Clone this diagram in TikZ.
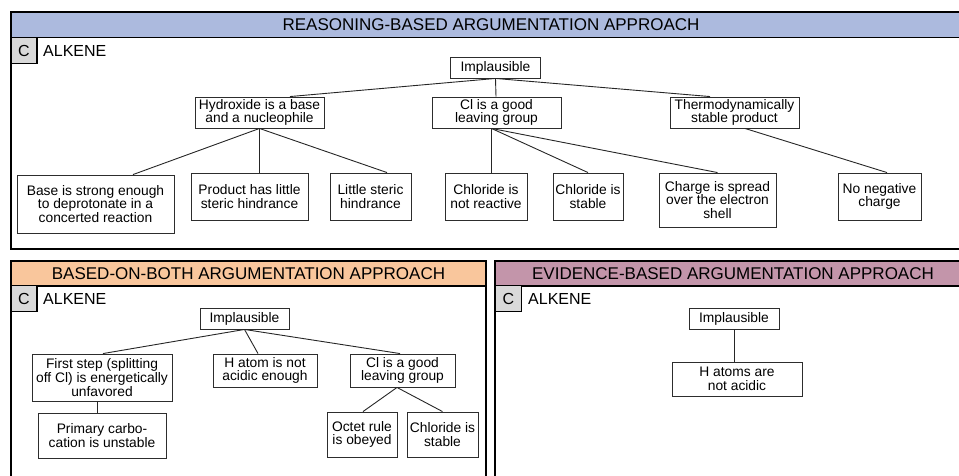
\documentclass[tikz,border=0pt]{standalone}
\usepackage{fontspec}
\setmainfont{Liberation Sans}
\definecolor{hblue}{RGB}{172,186,222}
\definecolor{horange}{RGB}{249,198,156}
\definecolor{hmauve}{RGB}{195,149,170}
\definecolor{cgray}{RGB}{217,217,217}
\definecolor{boxline}{RGB}{45,45,45}
\tikzset{
  argbox/.style={draw=boxline, line width=0.9pt, fill=white, inner sep=0pt, align=center,
    font=\fontsize{13.8}{13.6}\selectfont},
  panel/.style={draw=black, line width=1.5pt},
  header/.style={draw=black, line width=1.5pt},
  headtext/.style={font=\fontsize{17}{18}\selectfont, inner sep=0pt},
  cbox/.style={draw=black, line width=1.2pt, fill=cgray, inner sep=0pt,
    minimum width=26pt, minimum height=26pt, font=\fontsize{16}{18}\selectfont},
  alk/.style={anchor=west, inner sep=0pt, font=\fontsize{16}{18}\selectfont},
  link/.style={draw=black!85, line width=0.9pt}
}
\begin{document}
\begin{tikzpicture}[x=1pt,y=-1pt]
\useasboundingbox (0,0) rectangle (959,475);
\clip (0,0) rectangle (959,475);
% ---------- top panel ----------
\draw[panel] (11,12) rectangle (971,249);
\draw[header, fill=hblue] (11,12) rectangle (971,37.5);
\node[headtext] (h1) at (491,25) {REASONING-BASED ARGUMENTATION APPROACH};
\node[cbox] (c1) at (24,50.5) {C};
\node[alk] (a1) at (43,51) {ALKENE};

\node[argbox, minimum width=90pt, minimum height=21pt] (i1) at (495.5,67.5) {Implausible};
\node[argbox, minimum width=129pt, minimum height=31pt] (hyd) at (259.5,112.5) {Hydroxide is a base\\and a nucleophile};
\node[argbox, minimum width=129pt, minimum height=31pt] (cl) at (496.5,112.5) {Cl is a good\\leaving group};
\node[argbox, minimum width=129pt, minimum height=31pt] (thermo) at (734.5,112.5) {Thermodynamically\\stable product};
\node[argbox, minimum width=157pt, minimum height=58pt] (base) at (95.5,204) {Base is strong enough\\to deprotonate in a\\concerted reaction};
\node[argbox, minimum width=117pt, minimum height=47pt] (prod) at (249.5,196.5) {Product has little\\steric hindrance};
\node[argbox, minimum width=81pt, minimum height=47pt] (lst) at (370.5,196.5) {Little steric\\hindrance};
\node[argbox, minimum width=82pt, minimum height=47pt] (cnr) at (486,196.5) {Chloride is\\not reactive};
\node[argbox, minimum width=70pt, minimum height=47pt] (cst) at (588,196.5) {Chloride is\\stable};
\node[argbox, minimum width=117pt, minimum height=54pt] (chg) at (717.5,200) {Charge is spread\\over the electron\\shell};
\node[argbox, minimum width=83pt, minimum height=47pt] (nneg) at (879.5,196.5) {No negative\\charge};

\draw[link] (i1.south) -- ([xshift=30.5pt]hyd.north);
\draw[link] (i1.south) -- ([xshift=-0.5pt]cl.north);
\draw[link] (i1.south) -- ([xshift=-24.5pt]thermo.north);
\draw[link] (hyd.south) -- ([xshift=37.5pt]base.north);
\draw[link] (hyd.south) -- ([xshift=10pt]prod.north);
\draw[link] (hyd.south) -- ([xshift=16.5pt]lst.north);
\coordinate (clb) at ([xshift=-5pt]cl.south);
\draw[link] (clb) -- ([xshift=5.5pt]cnr.north);
\draw[link] (clb) -- (cst.north);
\draw[link] (clb) -- (chg.north);
\draw[link] ([xshift=10.5pt]thermo.south) -- ([xshift=7.5pt]nneg.north);

% ---------- bottom-left panel ----------
\draw[panel] (11,261) rectangle (486,482);
\draw[header, fill=horange] (11,261) rectangle (486,286);
\node[headtext] (h2) at (248.5,274) {BASED-ON-BOTH ARGUMENTATION APPROACH};
\node[cbox] (c2) at (24,298.5) {C};
\node[alk] (a2) at (43,299) {ALKENE};

\node[argbox, minimum width=89pt, minimum height=21pt] (i2) at (244.5,318.5) {Implausible};
\node[argbox, minimum width=140pt, minimum height=47pt] (fst) at (102,377.5) {First step (splitting\\off Cl) is energetically\\unfavored};
\node[argbox, minimum width=104pt, minimum height=33pt] (hat) at (265,370.5) {H atom is not\\acidic enough};
\node[argbox, minimum width=105pt, minimum height=33pt] (cl2) at (402.5,370.5) {Cl is a good\\leaving group};
\node[argbox, minimum width=128pt, minimum height=45pt] (prim) at (102,435.5) {Primary carbo-\\cation is unstable};
\node[argbox, minimum width=70pt, minimum height=45pt] (oct) at (362,434.5) {Octet rule\\is obeyed};
\node[argbox, minimum width=71pt, minimum height=45pt] (cst2) at (442.5,434.5) {Chloride is\\stable};

\draw[link] (i2.south) -- ([xshift=1pt]fst.north);
\draw[link] (i2.south) -- ([xshift=-7pt]hat.north);
\draw[link] (i2.south) -- ([xshift=-2.5pt]cl2.north);
\draw[link] ([xshift=-5pt]fst.south) -- ([xshift=-5pt]prim.north);
\draw[link] ([xshift=-5.5pt]cl2.south) -- ([xshift=1pt]oct.north);
\draw[link] ([xshift=-5.5pt]cl2.south) -- (cst2.north);

% ---------- bottom-right panel ----------
\draw[panel] (495,261) rectangle (971,482);
\draw[header, fill=hmauve] (495,261) rectangle (971,286);
\node[headtext] (h3) at (733,274) {EVIDENCE-BASED ARGUMENTATION APPROACH};
\node[cbox] (c3) at (508.5,298.5) {C};
\node[alk] (a3) at (528,299) {ALKENE};

\node[argbox, minimum width=90pt, minimum height=21pt] (i3) at (734,318.5) {Implausible};
\node[argbox, minimum width=130pt, minimum height=34pt] (hats) at (737,379) {H atoms are\\not acidic};
\draw[link] (i3.south) -- ([xshift=-3pt]hats.north);
\end{tikzpicture}
\end{document}
